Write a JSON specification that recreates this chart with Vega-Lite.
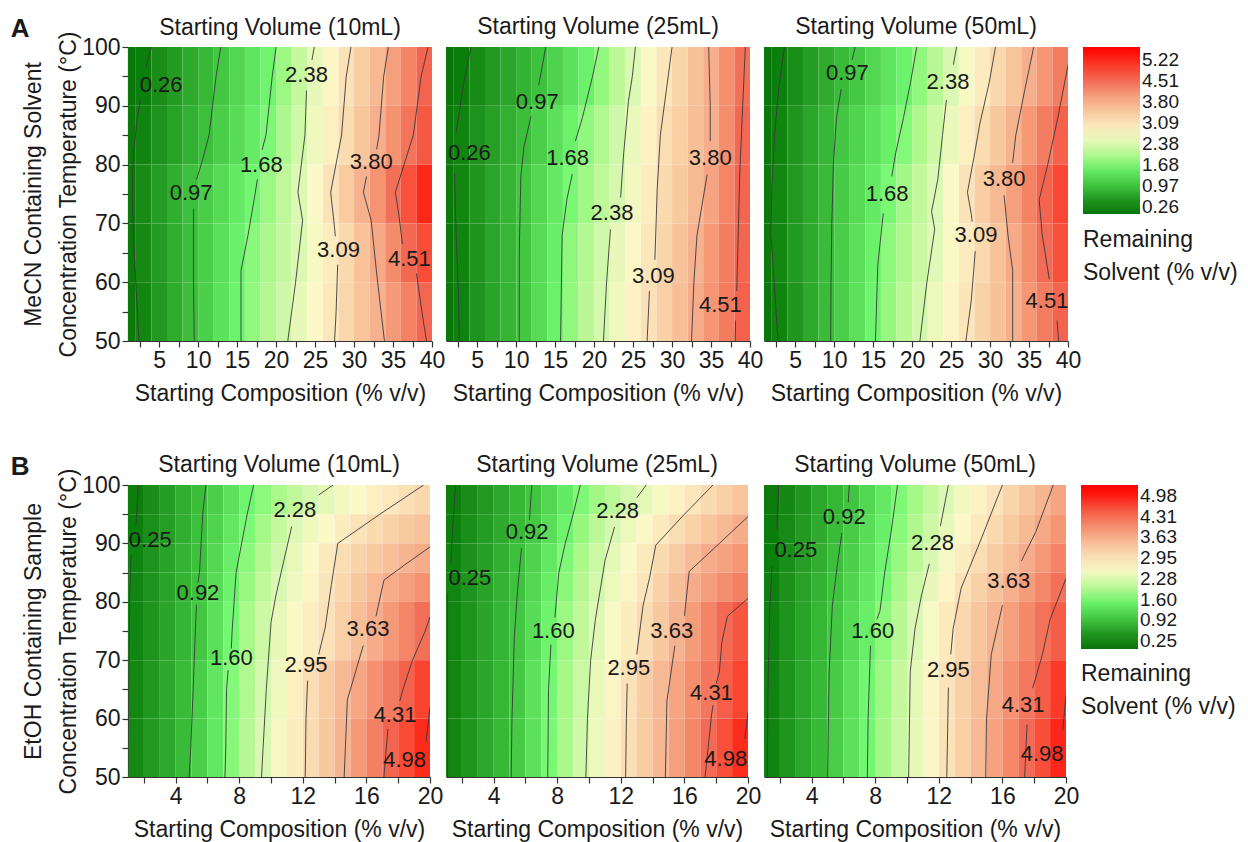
{
"$schema":"https://vega.github.io/schema/vega-lite/v6.json",
"padding":{"left":10,"top":16,"right":5,"bottom":5},
"background":"white",
"spacing":48,
"resolve":{"scale":{"color":"independent"},"legend":{"color":"independent"}},
"config":{
"font":"Liberation Sans",
"view":{"stroke":null},
"axis":{"labelFontSize":23,"titleFontSize":23,"titleFontWeight":"normal","labelColor":"#1a1a1a","titleColor":"#1a1a1a","domainColor":"#333333","tickColor":"#333333","grid":false,"labelFlush":false,"labelOverlap":false,"domainWidth":1.2,"tickWidth":1.2},
"title":{"fontSize":23,"fontWeight":"normal","color":"#1a1a1a","offset":8,"frame":"group"},
"legend":{"titleOrient":"bottom","titleAnchor":"start","titleFontSize":23,"titleFontWeight":"normal","titleColor":"#1a1a1a","titleLineHeight":33,"titlePadding":12,"labelFontSize":19,"labelColor":"#1a1a1a","gradientThickness":57,"labelOverlap":false,"labelOffset":9,"gradientStrokeWidth":0}
},
"datasets":{
"a1":[
{"x":0,"x2":2,"y":90,"y2":100,"v":0.11},{"x":2,"x2":4,"y":90,"y2":100,"v":0.26},{"x":4,"x2":6,"y":90,"y2":100,"v":0.41},{"x":6,"x2":8,"y":90,"y2":100,"v":0.57},{"x":8,"x2":10,"y":90,"y2":100,"v":0.72},{"x":10,"x2":12,"y":90,"y2":100,"v":0.87},{"x":12,"x2":14,"y":90,"y2":100,"v":1.04},{"x":14,"x2":16,"y":90,"y2":100,"v":1.24},{"x":16,"x2":18,"y":90,"y2":100,"v":1.43},{"x":18,"x2":20,"y":90,"y2":100,"v":1.63},{"x":20,"x2":22,"y":90,"y2":100,"v":1.90},{"x":22,"x2":24,"y":90,"y2":100,"v":2.20},{"x":24,"x2":26,"y":90,"y2":100,"v":2.50},{"x":26,"x2":28,"y":90,"y2":100,"v":2.79},{"x":28,"x2":30,"y":90,"y2":100,"v":3.09},{"x":30,"x2":32,"y":90,"y2":100,"v":3.39},{"x":32,"x2":34,"y":90,"y2":100,"v":3.68},{"x":34,"x2":36,"y":90,"y2":100,"v":3.98},{"x":36,"x2":38,"y":90,"y2":100,"v":4.27},{"x":38,"x2":40,"y":90,"y2":100,"v":4.57},
{"x":0,"x2":2,"y":80,"y2":90,"v":0.16},{"x":2,"x2":4,"y":80,"y2":90,"v":0.31},{"x":4,"x2":6,"y":80,"y2":90,"v":0.47},{"x":6,"x2":8,"y":80,"y2":90,"v":0.63},{"x":8,"x2":10,"y":80,"y2":90,"v":0.78},{"x":10,"x2":12,"y":80,"y2":90,"v":0.94},{"x":12,"x2":14,"y":80,"y2":90,"v":1.13},{"x":14,"x2":16,"y":80,"y2":90,"v":1.32},{"x":16,"x2":18,"y":80,"y2":90,"v":1.51},{"x":18,"x2":20,"y":80,"y2":90,"v":1.72},{"x":20,"x2":22,"y":80,"y2":90,"v":2.00},{"x":22,"x2":24,"y":80,"y2":90,"v":2.28},{"x":24,"x2":26,"y":80,"y2":90,"v":2.58},{"x":26,"x2":28,"y":80,"y2":90,"v":2.88},{"x":28,"x2":30,"y":80,"y2":90,"v":3.18},{"x":30,"x2":32,"y":80,"y2":90,"v":3.50},{"x":32,"x2":34,"y":80,"y2":90,"v":3.82},{"x":34,"x2":36,"y":80,"y2":90,"v":4.12},{"x":36,"x2":38,"y":80,"y2":90,"v":4.42},{"x":38,"x2":40,"y":80,"y2":90,"v":4.72},
{"x":0,"x2":2,"y":70,"y2":80,"v":0.21},{"x":2,"x2":4,"y":70,"y2":80,"v":0.39},{"x":4,"x2":6,"y":70,"y2":80,"v":0.58},{"x":6,"x2":8,"y":70,"y2":80,"v":0.76},{"x":8,"x2":10,"y":70,"y2":80,"v":0.94},{"x":10,"x2":12,"y":70,"y2":80,"v":1.12},{"x":12,"x2":14,"y":70,"y2":80,"v":1.30},{"x":14,"x2":16,"y":70,"y2":80,"v":1.48},{"x":16,"x2":18,"y":70,"y2":80,"v":1.65},{"x":18,"x2":20,"y":70,"y2":80,"v":1.89},{"x":20,"x2":22,"y":70,"y2":80,"v":2.14},{"x":22,"x2":24,"y":70,"y2":80,"v":2.40},{"x":24,"x2":26,"y":70,"y2":80,"v":2.74},{"x":26,"x2":28,"y":70,"y2":80,"v":3.09},{"x":28,"x2":30,"y":70,"y2":80,"v":3.43},{"x":30,"x2":32,"y":70,"y2":80,"v":3.77},{"x":32,"x2":34,"y":70,"y2":80,"v":4.11},{"x":34,"x2":36,"y":70,"y2":80,"v":4.46},{"x":36,"x2":38,"y":70,"y2":80,"v":4.80},{"x":38,"x2":40,"y":70,"y2":80,"v":5.15},
{"x":0,"x2":2,"y":60,"y2":70,"v":0.19},{"x":2,"x2":4,"y":60,"y2":70,"v":0.37},{"x":4,"x2":6,"y":60,"y2":70,"v":0.56},{"x":6,"x2":8,"y":60,"y2":70,"v":0.75},{"x":8,"x2":10,"y":60,"y2":70,"v":0.93},{"x":10,"x2":12,"y":60,"y2":70,"v":1.14},{"x":12,"x2":14,"y":60,"y2":70,"v":1.36},{"x":14,"x2":16,"y":60,"y2":70,"v":1.58},{"x":16,"x2":18,"y":60,"y2":70,"v":1.79},{"x":18,"x2":20,"y":60,"y2":70,"v":1.99},{"x":20,"x2":22,"y":60,"y2":70,"v":2.19},{"x":22,"x2":24,"y":60,"y2":70,"v":2.39},{"x":24,"x2":26,"y":60,"y2":70,"v":2.66},{"x":26,"x2":28,"y":60,"y2":70,"v":2.93},{"x":28,"x2":30,"y":60,"y2":70,"v":3.22},{"x":30,"x2":32,"y":60,"y2":70,"v":3.55},{"x":32,"x2":34,"y":60,"y2":70,"v":3.88},{"x":34,"x2":36,"y":60,"y2":70,"v":4.20},{"x":36,"x2":38,"y":60,"y2":70,"v":4.53},{"x":38,"x2":40,"y":60,"y2":70,"v":4.85},
{"x":0,"x2":2,"y":50,"y2":60,"v":0.14},{"x":2,"x2":4,"y":50,"y2":60,"v":0.34},{"x":4,"x2":6,"y":50,"y2":60,"v":0.53},{"x":6,"x2":8,"y":50,"y2":60,"v":0.73},{"x":8,"x2":10,"y":50,"y2":60,"v":0.93},{"x":10,"x2":12,"y":50,"y2":60,"v":1.15},{"x":12,"x2":14,"y":50,"y2":60,"v":1.39},{"x":14,"x2":16,"y":50,"y2":60,"v":1.62},{"x":16,"x2":18,"y":50,"y2":60,"v":1.84},{"x":18,"x2":20,"y":50,"y2":60,"v":2.06},{"x":20,"x2":22,"y":50,"y2":60,"v":2.27},{"x":22,"x2":24,"y":50,"y2":60,"v":2.51},{"x":24,"x2":26,"y":50,"y2":60,"v":2.75},{"x":26,"x2":28,"y":50,"y2":60,"v":3.00},{"x":28,"x2":30,"y":50,"y2":60,"v":3.26},{"x":30,"x2":32,"y":50,"y2":60,"v":3.52},{"x":32,"x2":34,"y":50,"y2":60,"v":3.78},{"x":34,"x2":36,"y":50,"y2":60,"v":4.04},{"x":36,"x2":38,"y":50,"y2":60,"v":4.30},{"x":38,"x2":40,"y":50,"y2":60,"v":4.55}
],
"a2":[
{"x":0,"x2":2,"y":90,"y2":100,"v":0.08},{"x":2,"x2":4,"y":90,"y2":100,"v":0.23},{"x":4,"x2":6,"y":90,"y2":100,"v":0.38},{"x":6,"x2":8,"y":90,"y2":100,"v":0.53},{"x":8,"x2":10,"y":90,"y2":100,"v":0.67},{"x":10,"x2":12,"y":90,"y2":100,"v":0.82},{"x":12,"x2":14,"y":90,"y2":100,"v":0.97},{"x":14,"x2":16,"y":90,"y2":100,"v":1.18},{"x":16,"x2":18,"y":90,"y2":100,"v":1.39},{"x":18,"x2":20,"y":90,"y2":100,"v":1.59},{"x":20,"x2":22,"y":90,"y2":100,"v":1.84},{"x":22,"x2":24,"y":90,"y2":100,"v":2.12},{"x":24,"x2":26,"y":90,"y2":100,"v":2.40},{"x":26,"x2":28,"y":90,"y2":100,"v":2.70},{"x":28,"x2":30,"y":90,"y2":100,"v":3.01},{"x":30,"x2":32,"y":90,"y2":100,"v":3.29},{"x":32,"x2":34,"y":90,"y2":100,"v":3.56},{"x":34,"x2":36,"y":90,"y2":100,"v":3.83},{"x":36,"x2":38,"y":90,"y2":100,"v":4.15},{"x":38,"x2":40,"y":90,"y2":100,"v":4.46},
{"x":0,"x2":2,"y":80,"y2":90,"v":0.16},{"x":2,"x2":4,"y":80,"y2":90,"v":0.31},{"x":4,"x2":6,"y":80,"y2":90,"v":0.47},{"x":6,"x2":8,"y":80,"y2":90,"v":0.62},{"x":8,"x2":10,"y":80,"y2":90,"v":0.78},{"x":10,"x2":12,"y":80,"y2":90,"v":0.93},{"x":12,"x2":14,"y":80,"y2":90,"v":1.14},{"x":14,"x2":16,"y":80,"y2":90,"v":1.37},{"x":16,"x2":18,"y":80,"y2":90,"v":1.59},{"x":18,"x2":20,"y":80,"y2":90,"v":1.82},{"x":20,"x2":22,"y":80,"y2":90,"v":2.04},{"x":22,"x2":24,"y":80,"y2":90,"v":2.27},{"x":24,"x2":26,"y":80,"y2":90,"v":2.54},{"x":26,"x2":28,"y":80,"y2":90,"v":2.85},{"x":28,"x2":30,"y":80,"y2":90,"v":3.15},{"x":30,"x2":32,"y":80,"y2":90,"v":3.37},{"x":32,"x2":34,"y":80,"y2":90,"v":3.59},{"x":34,"x2":36,"y":80,"y2":90,"v":3.82},{"x":36,"x2":38,"y":80,"y2":90,"v":4.17},{"x":38,"x2":40,"y":80,"y2":90,"v":4.53},
{"x":0,"x2":2,"y":70,"y2":80,"v":0.17},{"x":2,"x2":4,"y":70,"y2":80,"v":0.34},{"x":4,"x2":6,"y":70,"y2":80,"v":0.51},{"x":6,"x2":8,"y":70,"y2":80,"v":0.67},{"x":8,"x2":10,"y":70,"y2":80,"v":0.84},{"x":10,"x2":12,"y":70,"y2":80,"v":1.03},{"x":12,"x2":14,"y":70,"y2":80,"v":1.26},{"x":14,"x2":16,"y":70,"y2":80,"v":1.49},{"x":16,"x2":18,"y":70,"y2":80,"v":1.71},{"x":18,"x2":20,"y":70,"y2":80,"v":1.92},{"x":20,"x2":22,"y":70,"y2":80,"v":2.13},{"x":22,"x2":24,"y":70,"y2":80,"v":2.34},{"x":24,"x2":26,"y":70,"y2":80,"v":2.62},{"x":26,"x2":28,"y":70,"y2":80,"v":2.92},{"x":28,"x2":30,"y":70,"y2":80,"v":3.20},{"x":30,"x2":32,"y":70,"y2":80,"v":3.44},{"x":32,"x2":34,"y":70,"y2":80,"v":3.68},{"x":34,"x2":36,"y":70,"y2":80,"v":3.95},{"x":36,"x2":38,"y":70,"y2":80,"v":4.26},{"x":38,"x2":40,"y":70,"y2":80,"v":4.57},
{"x":0,"x2":2,"y":60,"y2":70,"v":0.14},{"x":2,"x2":4,"y":60,"y2":70,"v":0.32},{"x":4,"x2":6,"y":60,"y2":70,"v":0.49},{"x":6,"x2":8,"y":60,"y2":70,"v":0.67},{"x":8,"x2":10,"y":60,"y2":70,"v":0.85},{"x":10,"x2":12,"y":60,"y2":70,"v":1.05},{"x":12,"x2":14,"y":60,"y2":70,"v":1.31},{"x":14,"x2":16,"y":60,"y2":70,"v":1.57},{"x":16,"x2":18,"y":60,"y2":70,"v":1.82},{"x":18,"x2":20,"y":60,"y2":70,"v":2.05},{"x":20,"x2":22,"y":60,"y2":70,"v":2.28},{"x":22,"x2":24,"y":60,"y2":70,"v":2.52},{"x":24,"x2":26,"y":60,"y2":70,"v":2.77},{"x":26,"x2":28,"y":60,"y2":70,"v":3.03},{"x":28,"x2":30,"y":60,"y2":70,"v":3.28},{"x":30,"x2":32,"y":60,"y2":70,"v":3.54},{"x":32,"x2":34,"y":60,"y2":70,"v":3.79},{"x":34,"x2":36,"y":60,"y2":70,"v":4.06},{"x":36,"x2":38,"y":60,"y2":70,"v":4.32},{"x":38,"x2":40,"y":60,"y2":70,"v":4.58},
{"x":0,"x2":2,"y":50,"y2":60,"v":0.11},{"x":2,"x2":4,"y":50,"y2":60,"v":0.29},{"x":4,"x2":6,"y":50,"y2":60,"v":0.48},{"x":6,"x2":8,"y":50,"y2":60,"v":0.66},{"x":8,"x2":10,"y":50,"y2":60,"v":0.84},{"x":10,"x2":12,"y":50,"y2":60,"v":1.05},{"x":12,"x2":14,"y":50,"y2":60,"v":1.32},{"x":14,"x2":16,"y":50,"y2":60,"v":1.59},{"x":16,"x2":18,"y":50,"y2":60,"v":1.84},{"x":18,"x2":20,"y":50,"y2":60,"v":2.09},{"x":20,"x2":22,"y":50,"y2":60,"v":2.33},{"x":22,"x2":24,"y":50,"y2":60,"v":2.58},{"x":24,"x2":26,"y":50,"y2":60,"v":2.84},{"x":26,"x2":28,"y":50,"y2":60,"v":3.10},{"x":28,"x2":30,"y":50,"y2":60,"v":3.34},{"x":30,"x2":32,"y":50,"y2":60,"v":3.59},{"x":32,"x2":34,"y":50,"y2":60,"v":3.84},{"x":34,"x2":36,"y":50,"y2":60,"v":4.10},{"x":36,"x2":38,"y":50,"y2":60,"v":4.35},{"x":38,"x2":40,"y":50,"y2":60,"v":4.61}
],
"a3":[
{"x":0,"x2":2,"y":90,"y2":100,"v":0.10},{"x":2,"x2":4,"y":90,"y2":100,"v":0.26},{"x":4,"x2":6,"y":90,"y2":100,"v":0.42},{"x":6,"x2":8,"y":90,"y2":100,"v":0.58},{"x":8,"x2":10,"y":90,"y2":100,"v":0.73},{"x":10,"x2":12,"y":90,"y2":100,"v":0.89},{"x":12,"x2":14,"y":90,"y2":100,"v":1.06},{"x":14,"x2":16,"y":90,"y2":100,"v":1.24},{"x":16,"x2":18,"y":90,"y2":100,"v":1.42},{"x":18,"x2":20,"y":90,"y2":100,"v":1.60},{"x":20,"x2":22,"y":90,"y2":100,"v":1.83},{"x":22,"x2":24,"y":90,"y2":100,"v":2.10},{"x":24,"x2":26,"y":90,"y2":100,"v":2.38},{"x":26,"x2":28,"y":90,"y2":100,"v":2.66},{"x":28,"x2":30,"y":90,"y2":100,"v":2.95},{"x":30,"x2":32,"y":90,"y2":100,"v":3.24},{"x":32,"x2":34,"y":90,"y2":100,"v":3.53},{"x":34,"x2":36,"y":90,"y2":100,"v":3.81},{"x":36,"x2":38,"y":90,"y2":100,"v":4.08},{"x":38,"x2":40,"y":90,"y2":100,"v":4.34},
{"x":0,"x2":2,"y":80,"y2":90,"v":0.14},{"x":2,"x2":4,"y":80,"y2":90,"v":0.32},{"x":4,"x2":6,"y":80,"y2":90,"v":0.50},{"x":6,"x2":8,"y":80,"y2":90,"v":0.68},{"x":8,"x2":10,"y":80,"y2":90,"v":0.86},{"x":10,"x2":12,"y":80,"y2":90,"v":1.04},{"x":12,"x2":14,"y":80,"y2":90,"v":1.21},{"x":14,"x2":16,"y":80,"y2":90,"v":1.39},{"x":16,"x2":18,"y":80,"y2":90,"v":1.56},{"x":18,"x2":20,"y":80,"y2":90,"v":1.76},{"x":20,"x2":22,"y":80,"y2":90,"v":2.01},{"x":22,"x2":24,"y":80,"y2":90,"v":2.26},{"x":24,"x2":26,"y":80,"y2":90,"v":2.55},{"x":26,"x2":28,"y":80,"y2":90,"v":2.87},{"x":28,"x2":30,"y":80,"y2":90,"v":3.18},{"x":30,"x2":32,"y":80,"y2":90,"v":3.47},{"x":32,"x2":34,"y":80,"y2":90,"v":3.76},{"x":34,"x2":36,"y":80,"y2":90,"v":4.05},{"x":36,"x2":38,"y":80,"y2":90,"v":4.34},{"x":38,"x2":40,"y":80,"y2":90,"v":4.63},
{"x":0,"x2":2,"y":70,"y2":80,"v":0.17},{"x":2,"x2":4,"y":70,"y2":80,"v":0.35},{"x":4,"x2":6,"y":70,"y2":80,"v":0.53},{"x":6,"x2":8,"y":70,"y2":80,"v":0.71},{"x":8,"x2":10,"y":70,"y2":80,"v":0.89},{"x":10,"x2":12,"y":70,"y2":80,"v":1.09},{"x":12,"x2":14,"y":70,"y2":80,"v":1.30},{"x":14,"x2":16,"y":70,"y2":80,"v":1.50},{"x":16,"x2":18,"y":70,"y2":80,"v":1.71},{"x":18,"x2":20,"y":70,"y2":80,"v":1.94},{"x":20,"x2":22,"y":70,"y2":80,"v":2.17},{"x":22,"x2":24,"y":70,"y2":80,"v":2.40},{"x":24,"x2":26,"y":70,"y2":80,"v":2.73},{"x":26,"x2":28,"y":70,"y2":80,"v":3.07},{"x":28,"x2":30,"y":70,"y2":80,"v":3.38},{"x":30,"x2":32,"y":70,"y2":80,"v":3.68},{"x":32,"x2":34,"y":70,"y2":80,"v":3.98},{"x":34,"x2":36,"y":70,"y2":80,"v":4.28},{"x":36,"x2":38,"y":70,"y2":80,"v":4.59},{"x":38,"x2":40,"y":70,"y2":80,"v":4.89},
{"x":0,"x2":2,"y":60,"y2":70,"v":0.17},{"x":2,"x2":4,"y":60,"y2":70,"v":0.35},{"x":4,"x2":6,"y":60,"y2":70,"v":0.54},{"x":6,"x2":8,"y":60,"y2":70,"v":0.72},{"x":8,"x2":10,"y":60,"y2":70,"v":0.91},{"x":10,"x2":12,"y":60,"y2":70,"v":1.13},{"x":12,"x2":14,"y":60,"y2":70,"v":1.36},{"x":14,"x2":16,"y":60,"y2":70,"v":1.59},{"x":16,"x2":18,"y":60,"y2":70,"v":1.81},{"x":18,"x2":20,"y":60,"y2":70,"v":2.02},{"x":20,"x2":22,"y":60,"y2":70,"v":2.23},{"x":22,"x2":24,"y":60,"y2":70,"v":2.45},{"x":24,"x2":26,"y":60,"y2":70,"v":2.70},{"x":26,"x2":28,"y":60,"y2":70,"v":2.95},{"x":28,"x2":30,"y":60,"y2":70,"v":3.23},{"x":30,"x2":32,"y":60,"y2":70,"v":3.55},{"x":32,"x2":34,"y":60,"y2":70,"v":3.86},{"x":34,"x2":36,"y":60,"y2":70,"v":4.18},{"x":36,"x2":38,"y":60,"y2":70,"v":4.50},{"x":38,"x2":40,"y":60,"y2":70,"v":4.81},
{"x":0,"x2":2,"y":50,"y2":60,"v":0.10},{"x":2,"x2":4,"y":50,"y2":60,"v":0.31},{"x":4,"x2":6,"y":50,"y2":60,"v":0.51},{"x":6,"x2":8,"y":50,"y2":60,"v":0.71},{"x":8,"x2":10,"y":50,"y2":60,"v":0.91},{"x":10,"x2":12,"y":50,"y2":60,"v":1.14},{"x":12,"x2":14,"y":50,"y2":60,"v":1.38},{"x":14,"x2":16,"y":50,"y2":60,"v":1.63},{"x":16,"x2":18,"y":50,"y2":60,"v":1.86},{"x":18,"x2":20,"y":50,"y2":60,"v":2.09},{"x":20,"x2":22,"y":50,"y2":60,"v":2.32},{"x":22,"x2":24,"y":50,"y2":60,"v":2.56},{"x":24,"x2":26,"y":50,"y2":60,"v":2.81},{"x":26,"x2":28,"y":50,"y2":60,"v":3.05},{"x":28,"x2":30,"y":50,"y2":60,"v":3.31},{"x":30,"x2":32,"y":50,"y2":60,"v":3.56},{"x":32,"x2":34,"y":50,"y2":60,"v":3.81},{"x":34,"x2":36,"y":50,"y2":60,"v":4.08},{"x":36,"x2":38,"y":50,"y2":60,"v":4.34},{"x":38,"x2":40,"y":50,"y2":60,"v":4.60}
],
"b1":[
{"x":1,"x2":2,"y":95,"y2":100,"v":0.23},{"x":2,"x2":3,"y":95,"y2":100,"v":0.39},{"x":3,"x2":4,"y":95,"y2":100,"v":0.55},{"x":4,"x2":5,"y":95,"y2":100,"v":0.71},{"x":5,"x2":6,"y":95,"y2":100,"v":0.87},{"x":6,"x2":7,"y":95,"y2":100,"v":1.08},{"x":7,"x2":8,"y":95,"y2":100,"v":1.32},{"x":8,"x2":9,"y":95,"y2":100,"v":1.55},{"x":9,"x2":10,"y":95,"y2":100,"v":1.73},{"x":10,"x2":11,"y":95,"y2":100,"v":1.90},{"x":11,"x2":12,"y":95,"y2":100,"v":2.07},{"x":12,"x2":13,"y":95,"y2":100,"v":2.24},{"x":13,"x2":14,"y":95,"y2":100,"v":2.37},{"x":14,"x2":15,"y":95,"y2":100,"v":2.50},{"x":15,"x2":16,"y":95,"y2":100,"v":2.62},{"x":16,"x2":17,"y":95,"y2":100,"v":2.74},{"x":17,"x2":18,"y":95,"y2":100,"v":2.86},{"x":18,"x2":19,"y":95,"y2":100,"v":2.98},{"x":19,"x2":20,"y":95,"y2":100,"v":3.10},
{"x":1,"x2":2,"y":90,"y2":95,"v":0.25},{"x":2,"x2":3,"y":90,"y2":95,"v":0.41},{"x":3,"x2":4,"y":90,"y2":95,"v":0.57},{"x":4,"x2":5,"y":90,"y2":95,"v":0.73},{"x":5,"x2":6,"y":90,"y2":95,"v":0.89},{"x":6,"x2":7,"y":90,"y2":95,"v":1.14},{"x":7,"x2":8,"y":90,"y2":95,"v":1.39},{"x":8,"x2":9,"y":90,"y2":95,"v":1.64},{"x":9,"x2":10,"y":90,"y2":95,"v":1.87},{"x":10,"x2":11,"y":90,"y2":95,"v":2.10},{"x":11,"x2":12,"y":90,"y2":95,"v":2.32},{"x":12,"x2":13,"y":90,"y2":95,"v":2.47},{"x":13,"x2":14,"y":90,"y2":95,"v":2.63},{"x":14,"x2":15,"y":90,"y2":95,"v":2.79},{"x":15,"x2":16,"y":90,"y2":95,"v":2.95},{"x":16,"x2":17,"y":90,"y2":95,"v":3.06},{"x":17,"x2":18,"y":90,"y2":95,"v":3.17},{"x":18,"x2":19,"y":90,"y2":95,"v":3.28},{"x":19,"x2":20,"y":90,"y2":95,"v":3.39},
{"x":1,"x2":2,"y":85,"y2":90,"v":0.30},{"x":2,"x2":3,"y":85,"y2":90,"v":0.45},{"x":3,"x2":4,"y":85,"y2":90,"v":0.61},{"x":4,"x2":5,"y":85,"y2":90,"v":0.76},{"x":5,"x2":6,"y":85,"y2":90,"v":0.91},{"x":6,"x2":7,"y":85,"y2":90,"v":1.19},{"x":7,"x2":8,"y":85,"y2":90,"v":1.47},{"x":8,"x2":9,"y":85,"y2":90,"v":1.72},{"x":9,"x2":10,"y":85,"y2":90,"v":1.96},{"x":10,"x2":11,"y":85,"y2":90,"v":2.20},{"x":11,"x2":12,"y":85,"y2":90,"v":2.42},{"x":12,"x2":13,"y":85,"y2":90,"v":2.63},{"x":13,"x2":14,"y":85,"y2":90,"v":2.83},{"x":14,"x2":15,"y":85,"y2":90,"v":3.01},{"x":15,"x2":16,"y":85,"y2":90,"v":3.15},{"x":16,"x2":17,"y":85,"y2":90,"v":3.29},{"x":17,"x2":18,"y":85,"y2":90,"v":3.42},{"x":18,"x2":19,"y":85,"y2":90,"v":3.56},{"x":19,"x2":20,"y":85,"y2":90,"v":3.68},
{"x":1,"x2":2,"y":80,"y2":85,"v":0.31},{"x":2,"x2":3,"y":80,"y2":85,"v":0.46},{"x":3,"x2":4,"y":80,"y2":85,"v":0.62},{"x":4,"x2":5,"y":80,"y2":85,"v":0.77},{"x":5,"x2":6,"y":80,"y2":85,"v":0.93},{"x":6,"x2":7,"y":80,"y2":85,"v":1.23},{"x":7,"x2":8,"y":80,"y2":85,"v":1.53},{"x":8,"x2":9,"y":80,"y2":85,"v":1.79},{"x":9,"x2":10,"y":80,"y2":85,"v":2.05},{"x":10,"x2":11,"y":80,"y2":85,"v":2.29},{"x":11,"x2":12,"y":80,"y2":85,"v":2.49},{"x":12,"x2":13,"y":80,"y2":85,"v":2.69},{"x":13,"x2":14,"y":80,"y2":85,"v":2.90},{"x":14,"x2":15,"y":80,"y2":85,"v":3.10},{"x":15,"x2":16,"y":80,"y2":85,"v":3.31},{"x":16,"x2":17,"y":80,"y2":85,"v":3.52},{"x":17,"x2":18,"y":80,"y2":85,"v":3.69},{"x":18,"x2":19,"y":80,"y2":85,"v":3.81},{"x":19,"x2":20,"y":80,"y2":85,"v":3.93},
{"x":1,"x2":2,"y":70,"y2":80,"v":0.31},{"x":2,"x2":3,"y":70,"y2":80,"v":0.47},{"x":3,"x2":4,"y":70,"y2":80,"v":0.63},{"x":4,"x2":5,"y":70,"y2":80,"v":0.79},{"x":5,"x2":6,"y":70,"y2":80,"v":0.98},{"x":6,"x2":7,"y":70,"y2":80,"v":1.30},{"x":7,"x2":8,"y":70,"y2":80,"v":1.61},{"x":8,"x2":9,"y":70,"y2":80,"v":1.89},{"x":9,"x2":10,"y":70,"y2":80,"v":2.16},{"x":10,"x2":11,"y":70,"y2":80,"v":2.39},{"x":11,"x2":12,"y":70,"y2":80,"v":2.58},{"x":12,"x2":13,"y":70,"y2":80,"v":2.77},{"x":13,"x2":14,"y":70,"y2":80,"v":2.96},{"x":14,"x2":15,"y":70,"y2":80,"v":3.20},{"x":15,"x2":16,"y":70,"y2":80,"v":3.44},{"x":16,"x2":17,"y":70,"y2":80,"v":3.67},{"x":17,"x2":18,"y":70,"y2":80,"v":3.87},{"x":18,"x2":19,"y":70,"y2":80,"v":4.07},{"x":19,"x2":20,"y":70,"y2":80,"v":4.27},
{"x":1,"x2":2,"y":60,"y2":70,"v":0.33},{"x":2,"x2":3,"y":60,"y2":70,"v":0.50},{"x":3,"x2":4,"y":60,"y2":70,"v":0.67},{"x":4,"x2":5,"y":60,"y2":70,"v":0.84},{"x":5,"x2":6,"y":60,"y2":70,"v":1.07},{"x":6,"x2":7,"y":60,"y2":70,"v":1.38},{"x":7,"x2":8,"y":60,"y2":70,"v":1.68},{"x":8,"x2":9,"y":60,"y2":70,"v":1.95},{"x":9,"x2":10,"y":60,"y2":70,"v":2.23},{"x":10,"x2":11,"y":60,"y2":70,"v":2.49},{"x":11,"x2":12,"y":60,"y2":70,"v":2.76},{"x":12,"x2":13,"y":60,"y2":70,"v":3.02},{"x":13,"x2":14,"y":60,"y2":70,"v":3.27},{"x":14,"x2":15,"y":60,"y2":70,"v":3.51},{"x":15,"x2":16,"y":60,"y2":70,"v":3.74},{"x":16,"x2":17,"y":60,"y2":70,"v":3.95},{"x":17,"x2":18,"y":60,"y2":70,"v":4.16},{"x":18,"x2":19,"y":60,"y2":70,"v":4.41},{"x":19,"x2":20,"y":60,"y2":70,"v":4.72},
{"x":1,"x2":2,"y":50,"y2":60,"v":0.34},{"x":2,"x2":3,"y":50,"y2":60,"v":0.51},{"x":3,"x2":4,"y":50,"y2":60,"v":0.68},{"x":4,"x2":5,"y":50,"y2":60,"v":0.85},{"x":5,"x2":6,"y":50,"y2":60,"v":1.10},{"x":6,"x2":7,"y":50,"y2":60,"v":1.40},{"x":7,"x2":8,"y":50,"y2":60,"v":1.70},{"x":8,"x2":9,"y":50,"y2":60,"v":1.99},{"x":9,"x2":10,"y":50,"y2":60,"v":2.28},{"x":10,"x2":11,"y":50,"y2":60,"v":2.53},{"x":11,"x2":12,"y":50,"y2":60,"v":2.78},{"x":12,"x2":13,"y":50,"y2":60,"v":3.03},{"x":13,"x2":14,"y":50,"y2":60,"v":3.31},{"x":14,"x2":15,"y":50,"y2":60,"v":3.59},{"x":15,"x2":16,"y":50,"y2":60,"v":3.86},{"x":16,"x2":17,"y":50,"y2":60,"v":4.12},{"x":17,"x2":18,"y":50,"y2":60,"v":4.39},{"x":18,"x2":19,"y":50,"y2":60,"v":4.64},{"x":19,"x2":20,"y":50,"y2":60,"v":4.90}
],
"b2":[
{"x":1,"x2":2,"y":95,"y2":100,"v":0.24},{"x":2,"x2":3,"y":95,"y2":100,"v":0.38},{"x":3,"x2":4,"y":95,"y2":100,"v":0.52},{"x":4,"x2":5,"y":95,"y2":100,"v":0.66},{"x":5,"x2":6,"y":95,"y2":100,"v":0.80},{"x":6,"x2":7,"y":95,"y2":100,"v":0.96},{"x":7,"x2":8,"y":95,"y2":100,"v":1.19},{"x":8,"x2":9,"y":95,"y2":100,"v":1.43},{"x":9,"x2":10,"y":95,"y2":100,"v":1.65},{"x":10,"x2":11,"y":95,"y2":100,"v":1.84},{"x":11,"x2":12,"y":95,"y2":100,"v":2.02},{"x":12,"x2":13,"y":95,"y2":100,"v":2.21},{"x":13,"x2":14,"y":95,"y2":100,"v":2.38},{"x":14,"x2":15,"y":95,"y2":100,"v":2.55},{"x":15,"x2":16,"y":95,"y2":100,"v":2.72},{"x":16,"x2":17,"y":95,"y2":100,"v":2.88},{"x":17,"x2":18,"y":95,"y2":100,"v":3.05},{"x":18,"x2":19,"y":95,"y2":100,"v":3.21},{"x":19,"x2":20,"y":95,"y2":100,"v":3.37},
{"x":1,"x2":2,"y":90,"y2":95,"v":0.26},{"x":2,"x2":3,"y":90,"y2":95,"v":0.40},{"x":3,"x2":4,"y":90,"y2":95,"v":0.55},{"x":4,"x2":5,"y":90,"y2":95,"v":0.69},{"x":5,"x2":6,"y":90,"y2":95,"v":0.83},{"x":6,"x2":7,"y":90,"y2":95,"v":1.02},{"x":7,"x2":8,"y":90,"y2":95,"v":1.28},{"x":8,"x2":9,"y":90,"y2":95,"v":1.54},{"x":9,"x2":10,"y":90,"y2":95,"v":1.78},{"x":10,"x2":11,"y":90,"y2":95,"v":2.02},{"x":11,"x2":12,"y":90,"y2":95,"v":2.26},{"x":12,"x2":13,"y":90,"y2":95,"v":2.45},{"x":13,"x2":14,"y":90,"y2":95,"v":2.64},{"x":14,"x2":15,"y":90,"y2":95,"v":2.83},{"x":15,"x2":16,"y":90,"y2":95,"v":3.01},{"x":16,"x2":17,"y":90,"y2":95,"v":3.18},{"x":17,"x2":18,"y":90,"y2":95,"v":3.34},{"x":18,"x2":19,"y":90,"y2":95,"v":3.51},{"x":19,"x2":20,"y":90,"y2":95,"v":3.68},
{"x":1,"x2":2,"y":85,"y2":90,"v":0.28},{"x":2,"x2":3,"y":85,"y2":90,"v":0.43},{"x":3,"x2":4,"y":85,"y2":90,"v":0.58},{"x":4,"x2":5,"y":85,"y2":90,"v":0.74},{"x":5,"x2":6,"y":85,"y2":90,"v":0.89},{"x":6,"x2":7,"y":85,"y2":90,"v":1.13},{"x":7,"x2":8,"y":85,"y2":90,"v":1.39},{"x":8,"x2":9,"y":85,"y2":90,"v":1.65},{"x":9,"x2":10,"y":85,"y2":90,"v":1.90},{"x":10,"x2":11,"y":85,"y2":90,"v":2.14},{"x":11,"x2":12,"y":85,"y2":90,"v":2.38},{"x":12,"x2":13,"y":85,"y2":90,"v":2.60},{"x":13,"x2":14,"y":85,"y2":90,"v":2.83},{"x":14,"x2":15,"y":85,"y2":90,"v":3.05},{"x":15,"x2":16,"y":85,"y2":90,"v":3.26},{"x":16,"x2":17,"y":85,"y2":90,"v":3.48},{"x":17,"x2":18,"y":85,"y2":90,"v":3.67},{"x":18,"x2":19,"y":85,"y2":90,"v":3.78},{"x":19,"x2":20,"y":85,"y2":90,"v":3.90},
{"x":1,"x2":2,"y":80,"y2":85,"v":0.31},{"x":2,"x2":3,"y":80,"y2":85,"v":0.46},{"x":3,"x2":4,"y":80,"y2":85,"v":0.61},{"x":4,"x2":5,"y":80,"y2":85,"v":0.76},{"x":5,"x2":6,"y":80,"y2":85,"v":0.92},{"x":6,"x2":7,"y":80,"y2":85,"v":1.19},{"x":7,"x2":8,"y":80,"y2":85,"v":1.46},{"x":8,"x2":9,"y":80,"y2":85,"v":1.72},{"x":9,"x2":10,"y":80,"y2":85,"v":1.97},{"x":10,"x2":11,"y":80,"y2":85,"v":2.22},{"x":11,"x2":12,"y":80,"y2":85,"v":2.46},{"x":12,"x2":13,"y":80,"y2":85,"v":2.68},{"x":13,"x2":14,"y":80,"y2":85,"v":2.91},{"x":14,"x2":15,"y":80,"y2":85,"v":3.17},{"x":15,"x2":16,"y":80,"y2":85,"v":3.44},{"x":16,"x2":17,"y":80,"y2":85,"v":3.67},{"x":17,"x2":18,"y":80,"y2":85,"v":3.82},{"x":18,"x2":19,"y":80,"y2":85,"v":3.97},{"x":19,"x2":20,"y":80,"y2":85,"v":4.12},
{"x":1,"x2":2,"y":70,"y2":80,"v":0.31},{"x":2,"x2":3,"y":70,"y2":80,"v":0.47},{"x":3,"x2":4,"y":70,"y2":80,"v":0.63},{"x":4,"x2":5,"y":70,"y2":80,"v":0.79},{"x":5,"x2":6,"y":70,"y2":80,"v":0.98},{"x":6,"x2":7,"y":70,"y2":80,"v":1.26},{"x":7,"x2":8,"y":70,"y2":80,"v":1.54},{"x":8,"x2":9,"y":70,"y2":80,"v":1.81},{"x":9,"x2":10,"y":70,"y2":80,"v":2.07},{"x":10,"x2":11,"y":70,"y2":80,"v":2.33},{"x":11,"x2":12,"y":70,"y2":80,"v":2.56},{"x":12,"x2":13,"y":70,"y2":80,"v":2.79},{"x":13,"x2":14,"y":70,"y2":80,"v":3.03},{"x":14,"x2":15,"y":70,"y2":80,"v":3.31},{"x":15,"x2":16,"y":70,"y2":80,"v":3.59},{"x":16,"x2":17,"y":70,"y2":80,"v":3.84},{"x":17,"x2":18,"y":70,"y2":80,"v":4.08},{"x":18,"x2":19,"y":70,"y2":80,"v":4.32},{"x":19,"x2":20,"y":70,"y2":80,"v":4.54},
{"x":1,"x2":2,"y":60,"y2":70,"v":0.32},{"x":2,"x2":3,"y":60,"y2":70,"v":0.48},{"x":3,"x2":4,"y":60,"y2":70,"v":0.64},{"x":4,"x2":5,"y":60,"y2":70,"v":0.80},{"x":5,"x2":6,"y":60,"y2":70,"v":1.01},{"x":6,"x2":7,"y":60,"y2":70,"v":1.31},{"x":7,"x2":8,"y":60,"y2":70,"v":1.61},{"x":8,"x2":9,"y":60,"y2":70,"v":1.88},{"x":9,"x2":10,"y":60,"y2":70,"v":2.15},{"x":10,"x2":11,"y":60,"y2":70,"v":2.42},{"x":11,"x2":12,"y":60,"y2":70,"v":2.69},{"x":12,"x2":13,"y":60,"y2":70,"v":2.96},{"x":13,"x2":14,"y":60,"y2":70,"v":3.24},{"x":14,"x2":15,"y":60,"y2":70,"v":3.51},{"x":15,"x2":16,"y":60,"y2":70,"v":3.75},{"x":16,"x2":17,"y":60,"y2":70,"v":3.98},{"x":17,"x2":18,"y":60,"y2":70,"v":4.20},{"x":18,"x2":19,"y":60,"y2":70,"v":4.44},{"x":19,"x2":20,"y":60,"y2":70,"v":4.70},
{"x":1,"x2":2,"y":50,"y2":60,"v":0.32},{"x":2,"x2":3,"y":50,"y2":60,"v":0.48},{"x":3,"x2":4,"y":50,"y2":60,"v":0.65},{"x":4,"x2":5,"y":50,"y2":60,"v":0.82},{"x":5,"x2":6,"y":50,"y2":60,"v":1.03},{"x":6,"x2":7,"y":50,"y2":60,"v":1.33},{"x":7,"x2":8,"y":50,"y2":60,"v":1.63},{"x":8,"x2":9,"y":50,"y2":60,"v":1.91},{"x":9,"x2":10,"y":50,"y2":60,"v":2.18},{"x":10,"x2":11,"y":50,"y2":60,"v":2.46},{"x":11,"x2":12,"y":50,"y2":60,"v":2.73},{"x":12,"x2":13,"y":50,"y2":60,"v":3.00},{"x":13,"x2":14,"y":50,"y2":60,"v":3.27},{"x":14,"x2":15,"y":50,"y2":60,"v":3.54},{"x":15,"x2":16,"y":50,"y2":60,"v":3.80},{"x":16,"x2":17,"y":50,"y2":60,"v":4.05},{"x":17,"x2":18,"y":50,"y2":60,"v":4.31},{"x":18,"x2":19,"y":50,"y2":60,"v":4.60},{"x":19,"x2":20,"y":50,"y2":60,"v":4.89}
],
"b3":[
{"x":1,"x2":2,"y":95,"y2":100,"v":0.19},{"x":2,"x2":3,"y":95,"y2":100,"v":0.34},{"x":3,"x2":4,"y":95,"y2":100,"v":0.49},{"x":4,"x2":5,"y":95,"y2":100,"v":0.65},{"x":5,"x2":6,"y":95,"y2":100,"v":0.80},{"x":6,"x2":7,"y":95,"y2":100,"v":0.96},{"x":7,"x2":8,"y":95,"y2":100,"v":1.19},{"x":8,"x2":9,"y":95,"y2":100,"v":1.42},{"x":9,"x2":10,"y":95,"y2":100,"v":1.65},{"x":10,"x2":11,"y":95,"y2":100,"v":1.87},{"x":11,"x2":12,"y":95,"y2":100,"v":2.08},{"x":12,"x2":13,"y":95,"y2":100,"v":2.30},{"x":13,"x2":14,"y":95,"y2":100,"v":2.50},{"x":14,"x2":15,"y":95,"y2":100,"v":2.71},{"x":15,"x2":16,"y":95,"y2":100,"v":2.92},{"x":16,"x2":17,"y":95,"y2":100,"v":3.13},{"x":17,"x2":18,"y":95,"y2":100,"v":3.34},{"x":18,"x2":19,"y":95,"y2":100,"v":3.55},{"x":19,"x2":20,"y":95,"y2":100,"v":3.75},
{"x":1,"x2":2,"y":90,"y2":95,"v":0.20},{"x":2,"x2":3,"y":90,"y2":95,"v":0.36},{"x":3,"x2":4,"y":90,"y2":95,"v":0.52},{"x":4,"x2":5,"y":90,"y2":95,"v":0.69},{"x":5,"x2":6,"y":90,"y2":95,"v":0.85},{"x":6,"x2":7,"y":90,"y2":95,"v":1.04},{"x":7,"x2":8,"y":90,"y2":95,"v":1.26},{"x":8,"x2":9,"y":90,"y2":95,"v":1.48},{"x":9,"x2":10,"y":90,"y2":95,"v":1.71},{"x":10,"x2":11,"y":90,"y2":95,"v":1.93},{"x":11,"x2":12,"y":90,"y2":95,"v":2.16},{"x":12,"x2":13,"y":90,"y2":95,"v":2.39},{"x":13,"x2":14,"y":90,"y2":95,"v":2.62},{"x":14,"x2":15,"y":90,"y2":95,"v":2.85},{"x":15,"x2":16,"y":90,"y2":95,"v":3.07},{"x":16,"x2":17,"y":90,"y2":95,"v":3.28},{"x":17,"x2":18,"y":90,"y2":95,"v":3.49},{"x":18,"x2":19,"y":90,"y2":95,"v":3.70},{"x":19,"x2":20,"y":90,"y2":95,"v":3.90},
{"x":1,"x2":2,"y":85,"y2":90,"v":0.24},{"x":2,"x2":3,"y":85,"y2":90,"v":0.40},{"x":3,"x2":4,"y":85,"y2":90,"v":0.56},{"x":4,"x2":5,"y":85,"y2":90,"v":0.73},{"x":5,"x2":6,"y":85,"y2":90,"v":0.89},{"x":6,"x2":7,"y":85,"y2":90,"v":1.10},{"x":7,"x2":8,"y":85,"y2":90,"v":1.32},{"x":8,"x2":9,"y":85,"y2":90,"v":1.55},{"x":9,"x2":10,"y":85,"y2":90,"v":1.79},{"x":10,"x2":11,"y":85,"y2":90,"v":2.03},{"x":11,"x2":12,"y":85,"y2":90,"v":2.28},{"x":12,"x2":13,"y":85,"y2":90,"v":2.53},{"x":13,"x2":14,"y":85,"y2":90,"v":2.78},{"x":14,"x2":15,"y":85,"y2":90,"v":3.02},{"x":15,"x2":16,"y":85,"y2":90,"v":3.24},{"x":16,"x2":17,"y":85,"y2":90,"v":3.46},{"x":17,"x2":18,"y":85,"y2":90,"v":3.67},{"x":18,"x2":19,"y":85,"y2":90,"v":3.88},{"x":19,"x2":20,"y":85,"y2":90,"v":4.08},
{"x":1,"x2":2,"y":80,"y2":85,"v":0.26},{"x":2,"x2":3,"y":80,"y2":85,"v":0.43},{"x":3,"x2":4,"y":80,"y2":85,"v":0.60},{"x":4,"x2":5,"y":80,"y2":85,"v":0.76},{"x":5,"x2":6,"y":80,"y2":85,"v":0.93},{"x":6,"x2":7,"y":80,"y2":85,"v":1.16},{"x":7,"x2":8,"y":80,"y2":85,"v":1.38},{"x":8,"x2":9,"y":80,"y2":85,"v":1.61},{"x":9,"x2":10,"y":80,"y2":85,"v":1.87},{"x":10,"x2":11,"y":80,"y2":85,"v":2.14},{"x":11,"x2":12,"y":80,"y2":85,"v":2.41},{"x":12,"x2":13,"y":80,"y2":85,"v":2.69},{"x":13,"x2":14,"y":80,"y2":85,"v":2.97},{"x":14,"x2":15,"y":80,"y2":85,"v":3.19},{"x":15,"x2":16,"y":80,"y2":85,"v":3.41},{"x":16,"x2":17,"y":80,"y2":85,"v":3.63},{"x":17,"x2":18,"y":80,"y2":85,"v":3.84},{"x":18,"x2":19,"y":80,"y2":85,"v":4.04},{"x":19,"x2":20,"y":80,"y2":85,"v":4.25},
{"x":1,"x2":2,"y":70,"y2":80,"v":0.28},{"x":2,"x2":3,"y":70,"y2":80,"v":0.45},{"x":3,"x2":4,"y":70,"y2":80,"v":0.62},{"x":4,"x2":5,"y":70,"y2":80,"v":0.80},{"x":5,"x2":6,"y":70,"y2":80,"v":0.99},{"x":6,"x2":7,"y":70,"y2":80,"v":1.23},{"x":7,"x2":8,"y":70,"y2":80,"v":1.47},{"x":8,"x2":9,"y":70,"y2":80,"v":1.73},{"x":9,"x2":10,"y":70,"y2":80,"v":2.01},{"x":10,"x2":11,"y":70,"y2":80,"v":2.29},{"x":11,"x2":12,"y":70,"y2":80,"v":2.56},{"x":12,"x2":13,"y":70,"y2":80,"v":2.84},{"x":13,"x2":14,"y":70,"y2":80,"v":3.10},{"x":14,"x2":15,"y":70,"y2":80,"v":3.35},{"x":15,"x2":16,"y":70,"y2":80,"v":3.59},{"x":16,"x2":17,"y":70,"y2":80,"v":3.81},{"x":17,"x2":18,"y":70,"y2":80,"v":4.02},{"x":18,"x2":19,"y":70,"y2":80,"v":4.24},{"x":19,"x2":20,"y":70,"y2":80,"v":4.47},
{"x":1,"x2":2,"y":60,"y2":70,"v":0.29},{"x":2,"x2":3,"y":60,"y2":70,"v":0.47},{"x":3,"x2":4,"y":60,"y2":70,"v":0.64},{"x":4,"x2":5,"y":60,"y2":70,"v":0.82},{"x":5,"x2":6,"y":60,"y2":70,"v":1.03},{"x":6,"x2":7,"y":60,"y2":70,"v":1.30},{"x":7,"x2":8,"y":60,"y2":70,"v":1.57},{"x":8,"x2":9,"y":60,"y2":70,"v":1.83},{"x":9,"x2":10,"y":60,"y2":70,"v":2.10},{"x":10,"x2":11,"y":60,"y2":70,"v":2.37},{"x":11,"x2":12,"y":60,"y2":70,"v":2.65},{"x":12,"x2":13,"y":60,"y2":70,"v":2.92},{"x":13,"x2":14,"y":60,"y2":70,"v":3.19},{"x":14,"x2":15,"y":60,"y2":70,"v":3.46},{"x":15,"x2":16,"y":60,"y2":70,"v":3.71},{"x":16,"x2":17,"y":60,"y2":70,"v":3.95},{"x":17,"x2":18,"y":60,"y2":70,"v":4.19},{"x":18,"x2":19,"y":60,"y2":70,"v":4.47},{"x":19,"x2":20,"y":60,"y2":70,"v":4.79},
{"x":1,"x2":2,"y":50,"y2":60,"v":0.30},{"x":2,"x2":3,"y":50,"y2":60,"v":0.48},{"x":3,"x2":4,"y":50,"y2":60,"v":0.65},{"x":4,"x2":5,"y":50,"y2":60,"v":0.83},{"x":5,"x2":6,"y":50,"y2":60,"v":1.05},{"x":6,"x2":7,"y":50,"y2":60,"v":1.32},{"x":7,"x2":8,"y":50,"y2":60,"v":1.59},{"x":8,"x2":9,"y":50,"y2":60,"v":1.86},{"x":9,"x2":10,"y":50,"y2":60,"v":2.12},{"x":10,"x2":11,"y":50,"y2":60,"v":2.39},{"x":11,"x2":12,"y":50,"y2":60,"v":2.67},{"x":12,"x2":13,"y":50,"y2":60,"v":2.94},{"x":13,"x2":14,"y":50,"y2":60,"v":3.22},{"x":14,"x2":15,"y":50,"y2":60,"v":3.50},{"x":15,"x2":16,"y":50,"y2":60,"v":3.77},{"x":16,"x2":17,"y":50,"y2":60,"v":4.04},{"x":17,"x2":18,"y":50,"y2":60,"v":4.31},{"x":18,"x2":19,"y":50,"y2":60,"v":4.61},{"x":19,"x2":20,"y":50,"y2":60,"v":4.92}
],
"a1c":[
{"g":"0.26a","x":4.0,"y":100},{"g":"0.26a","x":3.3,"y":96.5},
{"g":"0.26b","x":2.6,"y":91},{"g":"0.26b","x":2.2,"y":88},{"g":"0.26b","x":1.7,"y":82},{"g":"0.26b","x":1.55,"y":75},{"g":"0.26b","x":1.7,"y":68},{"g":"0.26b","x":2.0,"y":60},{"g":"0.26b","x":2.4,"y":50},
{"g":"0.97a","x":12.9,"y":100},{"g":"0.97a","x":12.3,"y":95},{"g":"0.97a","x":11.4,"y":85},{"g":"0.97a","x":10.5,"y":80.5},{"g":"0.97a","x":9.8,"y":77.5},
{"g":"0.97b","x":9.4,"y":72.5},{"g":"0.97b","x":9.4,"y":70},{"g":"0.97b","x":9.4,"y":60},{"g":"0.97b","x":9.5,"y":50},
{"g":"1.68a","x":20.0,"y":100},{"g":"1.68a","x":19.5,"y":95},{"g":"1.68a","x":18.7,"y":85},{"g":"1.68a","x":18.2,"y":82.5},
{"g":"1.68b","x":17.6,"y":77.5},{"g":"1.68b","x":17.3,"y":75},{"g":"1.68b","x":16.4,"y":68},{"g":"1.68b","x":15.5,"y":62},{"g":"1.68b","x":15.5,"y":50},
{"g":"2.38a","x":24.9,"y":100},{"g":"2.38a","x":24.6,"y":97.8},
{"g":"2.38b","x":23.9,"y":92.6},{"g":"2.38b","x":23.7,"y":85},{"g":"2.38b","x":22.8,"y":75.3},{"g":"2.38b","x":23.4,"y":70.5},{"g":"2.38b","x":22.5,"y":60},{"g":"2.38b","x":21.5,"y":50},
{"g":"3.09a","x":29.6,"y":100},{"g":"3.09a","x":29.0,"y":95},{"g":"3.09a","x":28.4,"y":85},{"g":"3.09a","x":27.0,"y":75.3},{"g":"3.09a","x":27.4,"y":70.5},{"g":"3.09a","x":27.6,"y":67.8},
{"g":"3.09b","x":27.9,"y":63},{"g":"3.09b","x":27.7,"y":55},{"g":"3.09b","x":27.5,"y":50},
{"g":"3.80a","x":34.4,"y":100},{"g":"3.80a","x":33.8,"y":95},{"g":"3.80a","x":33.2,"y":85},{"g":"3.80a","x":32.9,"y":82.6},
{"g":"3.80b","x":31.6,"y":78},{"g":"3.80b","x":31.2,"y":75.3},{"g":"3.80b","x":32.2,"y":70.5},{"g":"3.80b","x":32.9,"y":61.5},{"g":"3.80b","x":33.9,"y":50},
{"g":"4.51a","x":39.5,"y":100},{"g":"4.51a","x":38.6,"y":95},{"g":"4.51a","x":37.6,"y":85},{"g":"4.51a","x":35.3,"y":75.3},{"g":"4.51a","x":35.8,"y":71},{"g":"4.51a","x":36.2,"y":66.5},
{"g":"4.51b","x":38.0,"y":61.5},{"g":"4.51b","x":38.7,"y":55},{"g":"4.51b","x":39.3,"y":50}
],
"a2c":[
{"g":"0.26a","x":4.2,"y":100},{"g":"0.26a","x":3.4,"y":95},{"g":"0.26a","x":2.6,"y":88},{"g":"0.26a","x":2.3,"y":85.5},
{"g":"0.26b","x":2.1,"y":78.5},{"g":"0.26b","x":2.3,"y":68},{"g":"0.26b","x":2.6,"y":58},{"g":"0.26b","x":2.7,"y":50},
{"g":"0.97a","x":13.8,"y":100},{"g":"0.97a","x":12.9,"y":93.5},
{"g":"0.97b","x":11.9,"y":88.2},{"g":"0.97b","x":11.0,"y":83},{"g":"0.97b","x":10.6,"y":78},{"g":"0.97b","x":10.4,"y":65},{"g":"0.97b","x":10.4,"y":50},
{"g":"1.68a","x":20.6,"y":100},{"g":"1.68a","x":19.8,"y":95},{"g":"1.68a","x":18.5,"y":88},{"g":"1.68a","x":17.6,"y":84},
{"g":"1.68b","x":17.2,"y":78.4},{"g":"1.68b","x":16.5,"y":74},{"g":"1.68b","x":15.9,"y":68},{"g":"1.68b","x":15.7,"y":50},
{"g":"2.38a","x":25.3,"y":100},{"g":"2.38a","x":24.9,"y":95},{"g":"2.38a","x":24.4,"y":90.7},{"g":"2.38a","x":23.8,"y":82},{"g":"2.38a","x":23.4,"y":74.4},
{"g":"2.38b","x":22.1,"y":69},{"g":"2.38b","x":21.6,"y":60},{"g":"2.38b","x":21.2,"y":50},
{"g":"3.09a","x":30.0,"y":100},{"g":"3.09a","x":29.3,"y":93},{"g":"3.09a","x":28.5,"y":85},{"g":"3.09a","x":28.1,"y":76},{"g":"3.09a","x":27.8,"y":63.8},
{"g":"3.09b","x":27.1,"y":58.5},{"g":"3.09b","x":26.8,"y":50},
{"g":"3.80a","x":34.7,"y":100},{"g":"3.80a","x":34.9,"y":90},{"g":"3.80a","x":34.9,"y":84},
{"g":"3.80b","x":34.5,"y":78.3},{"g":"3.80b","x":33.2,"y":68},{"g":"3.80b","x":32.8,"y":60},{"g":"3.80b","x":32.5,"y":50},
{"g":"4.51a","x":39.4,"y":100},{"g":"4.51a","x":39.0,"y":88},{"g":"4.51a","x":38.7,"y":79},{"g":"4.51a","x":38.3,"y":58.5},
{"g":"4.51b","x":38.15,"y":53.5},{"g":"4.51b","x":38.1,"y":50}
],
"a3c":[
{"g":"0.26a","x":3.6,"y":100},{"g":"0.26a","x":2.9,"y":93},{"g":"0.26a","x":2.35,"y":85},{"g":"0.26a","x":2.0,"y":76},{"g":"0.26a","x":1.9,"y":68},{"g":"0.26a","x":2.3,"y":60},{"g":"0.26a","x":2.8,"y":50},
{"g":"0.97a","x":12.7,"y":100},{"g":"0.97a","x":12.3,"y":97.8},
{"g":"0.97b","x":10.9,"y":92.8},{"g":"0.97b","x":10.3,"y":88},{"g":"0.97b","x":9.9,"y":80},{"g":"0.97b","x":9.7,"y":70},{"g":"0.97b","x":9.6,"y":60},{"g":"0.97b","x":9.55,"y":50},
{"g":"1.68a","x":20.6,"y":100},{"g":"1.68a","x":19.8,"y":94},{"g":"1.68a","x":18.9,"y":88},{"g":"1.68a","x":17.9,"y":82},{"g":"1.68a","x":17.4,"y":78},
{"g":"1.68b","x":16.3,"y":71.7},{"g":"1.68b","x":15.6,"y":63},{"g":"1.68b","x":15.3,"y":50},
{"g":"2.38a","x":25.7,"y":100},{"g":"2.38a","x":25.3,"y":97},
{"g":"2.38b","x":24.4,"y":91},{"g":"2.38b","x":23.9,"y":85},{"g":"2.38b","x":23.3,"y":77.5},{"g":"2.38b","x":22.5,"y":72},{"g":"2.38b","x":22.9,"y":69},{"g":"2.38b","x":21.9,"y":60},{"g":"2.38b","x":21.0,"y":50},
{"g":"3.09a","x":30.7,"y":100},{"g":"3.09a","x":29.9,"y":94},{"g":"3.09a","x":28.7,"y":87},{"g":"3.09a","x":27.9,"y":81},{"g":"3.09a","x":27.1,"y":75.3},{"g":"3.09a","x":27.6,"y":71.5},{"g":"3.09a","x":27.7,"y":70.3},
{"g":"3.09b","x":28.1,"y":65.3},{"g":"3.09b","x":27.6,"y":57},{"g":"3.09b","x":26.9,"y":50},
{"g":"3.80a","x":35.6,"y":100},{"g":"3.80a","x":34.5,"y":93},{"g":"3.80a","x":33.3,"y":85},{"g":"3.80a","x":32.9,"y":80.3},
{"g":"3.80b","x":31.8,"y":74.8},{"g":"3.80b","x":32.3,"y":68},{"g":"3.80b","x":32.9,"y":62},{"g":"3.80b","x":32.9,"y":50},
{"g":"4.51a","x":40.0,"y":96.9},{"g":"4.51a","x":38.7,"y":88},{"g":"4.51a","x":37.4,"y":80},{"g":"4.51a","x":36.3,"y":74},{"g":"4.51a","x":36.7,"y":68},{"g":"4.51a","x":37.6,"y":60.5},
{"g":"4.51b","x":38.6,"y":53.5},{"g":"4.51b","x":38.8,"y":50}
],
"b1c":[
{"g":"0.25a","x":1.65,"y":100},{"g":"0.25a","x":1.5,"y":93},
{"g":"0.25b","x":1.2,"y":88},{"g":"0.25b","x":1.1,"y":80},{"g":"0.25b","x":1.05,"y":65},{"g":"0.25b","x":1.0,"y":50},
{"g":"0.92a","x":5.9,"y":100},{"g":"0.92a","x":5.7,"y":95},{"g":"0.92a","x":5.5,"y":85},{"g":"0.92a","x":5.4,"y":83.3},
{"g":"0.92b","x":5.3,"y":79.5},{"g":"0.92b","x":5.1,"y":65},{"g":"0.92b","x":4.95,"y":55},{"g":"0.92b","x":4.85,"y":50},
{"g":"1.60a","x":8.9,"y":100},{"g":"1.60a","x":8.5,"y":95},{"g":"1.60a","x":7.8,"y":85},{"g":"1.60a","x":7.55,"y":75},{"g":"1.60a","x":7.5,"y":72},
{"g":"1.60b","x":7.3,"y":68.3},{"g":"1.60b","x":7.2,"y":65},{"g":"1.60b","x":7.15,"y":55},{"g":"1.60b","x":7.1,"y":50},
{"g":"2.28a","x":13.9,"y":100},{"g":"2.28a","x":13.0,"y":98.3},
{"g":"2.28b","x":11.3,"y":92.9},{"g":"2.28b","x":10.8,"y":87},{"g":"2.28b","x":10.3,"y":81},{"g":"2.28b","x":10.0,"y":76.5},{"g":"2.28b","x":9.7,"y":65},{"g":"2.28b","x":9.5,"y":55},{"g":"2.28b","x":9.4,"y":50},
{"g":"2.95a","x":19.6,"y":100},{"g":"2.95a","x":16.85,"y":95},{"g":"2.95a","x":14.2,"y":90},{"g":"2.95a","x":13.8,"y":83},{"g":"2.95a","x":13.4,"y":75.5},{"g":"2.95a","x":13.0,"y":71},
{"g":"2.95b","x":12.3,"y":66.5},{"g":"2.95b","x":12.2,"y":60},{"g":"2.95b","x":12.15,"y":50},
{"g":"3.63a","x":20.0,"y":89.4},{"g":"3.63a","x":18.5,"y":86.5},{"g":"3.63a","x":17.1,"y":83.7},{"g":"3.63a","x":16.6,"y":77.5},
{"g":"3.63b","x":15.8,"y":72.5},{"g":"3.63b","x":14.8,"y":63.2},{"g":"3.63b","x":14.6,"y":50},
{"g":"4.31a","x":20.0,"y":77.4},{"g":"4.31a","x":19.7,"y":75},{"g":"4.31a","x":18.9,"y":70},{"g":"4.31a","x":18.3,"y":65},{"g":"4.31a","x":18.1,"y":63},
{"g":"4.31b","x":17.35,"y":58.2},{"g":"4.31b","x":17.1,"y":50},
{"g":"4.98a","x":20.0,"y":62},{"g":"4.98a","x":19.75,"y":56}
],
"b2c":[
{"g":"0.25a","x":1.6,"y":100},{"g":"0.25a","x":1.4,"y":92},{"g":"0.25a","x":1.3,"y":86.5},
{"g":"0.25b","x":1.1,"y":81.5},{"g":"0.25b","x":1.1,"y":65},{"g":"0.25b","x":1.1,"y":50},
{"g":"0.92a","x":6.4,"y":100},{"g":"0.92a","x":6.25,"y":94},
{"g":"0.92b","x":5.75,"y":89.2},{"g":"0.92b","x":5.5,"y":82},{"g":"0.92b","x":5.3,"y":74},{"g":"0.92b","x":5.15,"y":60},{"g":"0.92b","x":5.1,"y":50},
{"g":"1.60a","x":9.45,"y":100},{"g":"1.60a","x":9.0,"y":95},{"g":"1.60a","x":8.5,"y":90},{"g":"1.60a","x":8.1,"y":85},{"g":"1.60a","x":7.85,"y":77.3},
{"g":"1.60b","x":7.6,"y":72.7},{"g":"1.60b","x":7.45,"y":65},{"g":"1.60b","x":7.4,"y":50},
{"g":"2.28a","x":13.6,"y":100},{"g":"2.28a","x":13.0,"y":97.8},
{"g":"2.28b","x":11.6,"y":92.8},{"g":"2.28b","x":11.0,"y":87},{"g":"2.28b","x":10.4,"y":77},{"g":"2.28b","x":10.1,"y":70},{"g":"2.28b","x":9.9,"y":60},{"g":"2.28b","x":9.8,"y":50},
{"g":"2.95a","x":17.8,"y":100},{"g":"2.95a","x":16.0,"y":95},{"g":"2.95a","x":14.2,"y":89.7},{"g":"2.95a","x":13.8,"y":84},{"g":"2.95a","x":13.4,"y":79.4},{"g":"2.95a","x":13.0,"y":71},
{"g":"2.95b","x":12.4,"y":66},{"g":"2.95b","x":12.35,"y":60},{"g":"2.95b","x":12.3,"y":50},
{"g":"3.63a","x":20.0,"y":94.6},{"g":"3.63a","x":18.2,"y":90},{"g":"3.63a","x":16.3,"y":85.2},{"g":"3.63a","x":16.0,"y":77.6},
{"g":"3.63b","x":15.4,"y":72.5},{"g":"3.63b","x":14.9,"y":63},{"g":"3.63b","x":14.8,"y":50},
{"g":"4.31a","x":20.0,"y":80.6},{"g":"4.31a","x":18.7,"y":77.5},{"g":"4.31a","x":18.35,"y":73},{"g":"4.31a","x":18.2,"y":68},{"g":"4.31a","x":18.0,"y":66},
{"g":"4.31b","x":17.8,"y":62.3},{"g":"4.31b","x":17.7,"y":60.5},{"g":"4.31b","x":17.3,"y":50},
{"g":"4.98a","x":20.0,"y":61},{"g":"4.98a","x":19.8,"y":56.5}
],
"b3c":[
{"g":"0.25a","x":1.93,"y":100},{"g":"0.25a","x":1.8,"y":92.5},
{"g":"0.25b","x":1.5,"y":86},{"g":"0.25b","x":1.35,"y":78},{"g":"0.25b","x":1.25,"y":65},{"g":"0.25b","x":1.2,"y":50},
{"g":"0.92a","x":6.36,"y":100},{"g":"0.92a","x":6.3,"y":97},
{"g":"0.92b","x":5.9,"y":91.8},{"g":"0.92b","x":5.6,"y":86},{"g":"0.92b","x":5.3,"y":79.4},{"g":"0.92b","x":5.1,"y":68},{"g":"0.92b","x":5.0,"y":50},
{"g":"1.60a","x":9.4,"y":100},{"g":"1.60a","x":9.0,"y":92},{"g":"1.60a","x":8.6,"y":85.2},{"g":"1.60a","x":8.3,"y":78.5},{"g":"1.60a","x":8.1,"y":77},
{"g":"1.60b","x":7.7,"y":72.5},{"g":"1.60b","x":7.55,"y":60},{"g":"1.60b","x":7.5,"y":50},
{"g":"2.28a","x":12.6,"y":100},{"g":"2.28a","x":12.1,"y":93},
{"g":"2.28b","x":11.4,"y":86.5},{"g":"2.28b","x":10.9,"y":81},{"g":"2.28b","x":10.5,"y":75.4},{"g":"2.28b","x":10.2,"y":68},{"g":"2.28b","x":10.1,"y":50},
{"g":"2.95a","x":16.0,"y":100},{"g":"2.95a","x":14.7,"y":91},{"g":"2.95a","x":13.4,"y":82.3},{"g":"2.95a","x":12.9,"y":75.4},{"g":"2.95a","x":12.75,"y":71},
{"g":"2.95b","x":12.6,"y":65.3},{"g":"2.95b","x":12.5,"y":50},
{"g":"3.63a","x":19.2,"y":100},{"g":"3.63a","x":18.1,"y":92},{"g":"3.63a","x":17.2,"y":87},
{"g":"3.63b","x":16.0,"y":79.4},{"g":"3.63b","x":15.3,"y":71},{"g":"3.63b","x":15.0,"y":60},{"g":"3.63b","x":14.95,"y":50},
{"g":"4.31a","x":20.0,"y":84},{"g":"4.31a","x":19.0,"y":77},{"g":"4.31a","x":18.5,"y":70.8},{"g":"4.31a","x":17.9,"y":65.2},
{"g":"4.31b","x":17.55,"y":59},{"g":"4.31b","x":17.4,"y":50},
{"g":"4.98a","x":20.0,"y":64},{"g":"4.98a","x":19.8,"y":58}
],
"a1t":[{"t":"0.26","x":5.25,"y":93.5},{"t":"0.97","x":9.1,"y":75.1},{"t":"1.68","x":18.1,"y":79.9},{"t":"2.38","x":23.9,"y":95.2},{"t":"3.09","x":28.0,"y":65.4},{"t":"3.80","x":32.2,"y":80.4},{"t":"4.51","x":37.1,"y":64.0}],
"a2t":[{"t":"0.97","x":12.7,"y":90.7},{"t":"0.26","x":4.0,"y":82.0},{"t":"1.68","x":16.6,"y":81.1},{"t":"3.80","x":34.9,"y":81.1},{"t":"2.38","x":22.3,"y":71.8},{"t":"3.09","x":27.6,"y":61.1},{"t":"4.51","x":36.2,"y":56.1}],
"a3t":[{"t":"0.97","x":11.7,"y":95.5},{"t":"2.38","x":24.6,"y":94.1},{"t":"1.68","x":16.8,"y":75.0},{"t":"3.80","x":31.8,"y":77.6},{"t":"3.09","x":28.2,"y":68.0},{"t":"4.51","x":37.3,"y":56.8}],
"b1t":[{"t":"2.28","x":11.5,"y":95.7},{"t":"0.25","x":2.4,"y":90.6},{"t":"0.92","x":5.4,"y":81.5},{"t":"3.63","x":16.1,"y":75.3},{"t":"1.60","x":7.5,"y":70.3},{"t":"2.95","x":12.2,"y":69.2},{"t":"4.31","x":17.8,"y":60.6},{"t":"4.98","x":18.4,"y":52.9}],
"b2t":[{"t":"0.92","x":6.1,"y":92.0},{"t":"0.25","x":2.5,"y":84.0},{"t":"2.28","x":11.8,"y":95.5},{"t":"1.60","x":7.75,"y":75.0},{"t":"3.63","x":15.2,"y":75.0},{"t":"2.95","x":12.5,"y":68.6},{"t":"4.31","x":17.7,"y":64.3},{"t":"4.98","x":18.6,"y":53.1}],
"b3t":[{"t":"0.92","x":6.05,"y":94.6},{"t":"0.25","x":3.0,"y":88.9},{"t":"2.28","x":11.6,"y":90.0},{"t":"3.63","x":16.4,"y":83.5},{"t":"1.60","x":7.84,"y":75.0},{"t":"2.95","x":12.6,"y":68.3},{"t":"4.31","x":17.3,"y":62.3},{"t":"4.98","x":18.5,"y":54.0}]
},
"vconcat":[
{
"title":{"text":"A","anchor":"start","fontSize":26,"fontWeight":"bold","offset":-26,"dx":-12,"frame":"bounds"},
"spacing":14,
"bounds":"flush",
"resolve":{"scale":{"color":"independent"},"legend":{"color":"independent"}},
"hconcat":[
{"width":304,"height":294,"title":{"text":"Starting Volume (10mL)","offset":-9},
"encoding":{"x":{"field":"x","type":"quantitative","scale":{"domain":[1,40],"nice":false,"zero":false},"axis":{"title":"Starting Composition (% v/v)","values":[2.5,5,7.5,10,12.5,15,17.5,20,22.5,25,27.5,30,32.5,35,37.5,40],"labelExpr":"datum.value % 5 === 0 ? datum.label : ''","tickSize":6,"labelPadding":2,"titlePadding":10}},
"y":{"field":"y","type":"quantitative","scale":{"domain":[50,100],"nice":false,"zero":false},"axis":{"title":["MeCN Containing Solvent","Concentration Temperature (°C)"],"values":[50,55,60,65,70,75,80,85,90,95,100],"labelExpr":"datum.value % 10 === 0 ? datum.label : ''","tickSize":6,"labelPadding":2,"titlePadding":1,"titleLineHeight":35}}},
"layer":[
{"data":{"name":"a1"},"mark":{"type":"rect","clip":true},"encoding":{"x2":{"field":"x2"},"y2":{"field":"y2"},
"color":{"field":"v","type":"quantitative","scale":{"domain":[0.04,0.26,0.97,1.68,2.38,2.74,3.09,3.80,4.51,5.22,5.64],"range":["#0a740a","#0b7f0b","#3ec23e","#72f872","#d9f8b3","#fcf9c8","#fbe2b8","#f6b08e","#f26a55","#fd1a12","#ff0000"]},"legend":null}}},
{"data":{"name":"a1c"},"mark":{"type":"line","color":"#3a3a3a","strokeWidth":0.9,"clip":true},"encoding":{"detail":{"field":"g"},"order":{"field":"y"}}},
{"data":{"name":"a1t"},"mark":{"type":"text","fontSize":22,"color":"#1a1a1a"},"encoding":{"text":{"field":"t"}}}
]},
{"width":304,"height":294,"title":"Starting Volume (25mL)",
"encoding":{"x":{"field":"x","type":"quantitative","scale":{"domain":[1,40],"nice":false,"zero":false},"axis":{"title":"Starting Composition (% v/v)","values":[2.5,5,7.5,10,12.5,15,17.5,20,22.5,25,27.5,30,32.5,35,37.5,40],"labelExpr":"datum.value % 5 === 0 ? datum.label : ''","tickSize":6,"labelPadding":2,"titlePadding":10}},
"y":{"field":"y","type":"quantitative","scale":{"domain":[50,100],"nice":false,"zero":false},"axis":null}},
"layer":[
{"data":{"name":"a2"},"mark":{"type":"rect","clip":true},"encoding":{"x2":{"field":"x2"},"y2":{"field":"y2"},
"color":{"field":"v","type":"quantitative","scale":{"domain":[0.04,0.26,0.97,1.68,2.38,2.74,3.09,3.80,4.51,5.22,5.64],"range":["#0a740a","#0b7f0b","#3ec23e","#72f872","#d9f8b3","#fcf9c8","#fbe2b8","#f6b08e","#f26a55","#fd1a12","#ff0000"]},"legend":null}}},
{"data":{"name":"a2c"},"mark":{"type":"line","color":"#3a3a3a","strokeWidth":0.9,"clip":true},"encoding":{"detail":{"field":"g"},"order":{"field":"y"}}},
{"data":{"name":"a2t"},"mark":{"type":"text","fontSize":22,"color":"#1a1a1a"},"encoding":{"text":{"field":"t"}}}
]},
{"width":304,"height":294,"title":"Starting Volume (50mL)",
"encoding":{"x":{"field":"x","type":"quantitative","scale":{"domain":[1,40],"nice":false,"zero":false},"axis":{"title":"Starting Composition (% v/v)","values":[2.5,5,7.5,10,12.5,15,17.5,20,22.5,25,27.5,30,32.5,35,37.5,40],"labelExpr":"datum.value % 5 === 0 ? datum.label : ''","tickSize":6,"labelPadding":2,"titlePadding":10}},
"y":{"field":"y","type":"quantitative","scale":{"domain":[50,100],"nice":false,"zero":false},"axis":null}},
"layer":[
{"data":{"name":"a3"},"mark":{"type":"rect","clip":true},"encoding":{"x2":{"field":"x2"},"y2":{"field":"y2"},
"color":{"field":"v","type":"quantitative","scale":{"domain":[0.04,0.26,0.97,1.68,2.38,2.74,3.09,3.80,4.51,5.22,5.64],"range":["#0a740a","#0b7f0b","#3ec23e","#72f872","#d9f8b3","#fcf9c8","#fbe2b8","#f6b08e","#f26a55","#fd1a12","#ff0000"]},"legend":{"type":"gradient","format":".2f","title":["Remaining","Solvent (% v/v)"],"values":[0.26,0.97,1.68,2.38,3.09,3.80,4.51,5.22],"gradientLength":167,"offset":15}}}},
{"data":{"name":"a3c"},"mark":{"type":"line","color":"#3a3a3a","strokeWidth":0.9,"clip":true},"encoding":{"detail":{"field":"g"},"order":{"field":"y"}}},
{"data":{"name":"a3t"},"mark":{"type":"text","fontSize":22,"color":"#1a1a1a"},"encoding":{"text":{"field":"t"}}}
]}
]},
{
"title":{"text":"B","anchor":"start","fontSize":26,"fontWeight":"bold","offset":-26,"dx":-12,"frame":"bounds"},
"spacing":16,
"bounds":"flush",
"resolve":{"scale":{"color":"independent"},"legend":{"color":"independent"}},
"hconcat":[
{"width":302,"height":292,"title":{"text":"Starting Volume (10mL)","offset":-9},
"encoding":{"x":{"field":"x","type":"quantitative","scale":{"domain":[1,20],"nice":false,"zero":false},"axis":{"title":"Starting Composition (% v/v)","values":[2,4,6,8,10,12,14,16,18,20],"labelExpr":"datum.value % 4 === 0 ? datum.label : ''","tickSize":6,"labelPadding":2,"titlePadding":10}},
"y":{"field":"y","type":"quantitative","scale":{"domain":[50,100],"nice":false,"zero":false},"axis":{"title":["EtOH Containing Sample","Concentration Temperature (°C)"],"values":[50,55,60,65,70,75,80,85,90,95,100],"labelExpr":"datum.value % 10 === 0 ? datum.label : ''","tickSize":6,"labelPadding":2,"titlePadding":1,"titleLineHeight":35}}},
"layer":[
{"data":{"name":"b1"},"mark":{"type":"rect","clip":true},"encoding":{"x2":{"field":"x2"},"y2":{"field":"y2"},
"color":{"field":"v","type":"quantitative","scale":{"domain":[-0.01,0.25,0.92,1.60,2.28,2.61,2.95,3.63,4.31,4.98,5.34],"range":["#0a740a","#0b7f0b","#3ec23e","#72f872","#d9f8b3","#fcf9c8","#fbe2b8","#f6b08e","#f26a55","#fd1a12","#ff0000"]},"legend":null}}},
{"data":{"name":"b1c"},"mark":{"type":"line","color":"#3a3a3a","strokeWidth":0.9,"clip":true},"encoding":{"detail":{"field":"g"},"order":{"field":"y"}}},
{"data":{"name":"b1t"},"mark":{"type":"text","fontSize":22,"color":"#1a1a1a"},"encoding":{"text":{"field":"t"}}}
]},
{"width":302,"height":292,"title":"Starting Volume (25mL)",
"encoding":{"x":{"field":"x","type":"quantitative","scale":{"domain":[1,20],"nice":false,"zero":false},"axis":{"title":"Starting Composition (% v/v)","values":[2,4,6,8,10,12,14,16,18,20],"labelExpr":"datum.value % 4 === 0 ? datum.label : ''","tickSize":6,"labelPadding":2,"titlePadding":10}},
"y":{"field":"y","type":"quantitative","scale":{"domain":[50,100],"nice":false,"zero":false},"axis":null}},
"layer":[
{"data":{"name":"b2"},"mark":{"type":"rect","clip":true},"encoding":{"x2":{"field":"x2"},"y2":{"field":"y2"},
"color":{"field":"v","type":"quantitative","scale":{"domain":[-0.01,0.25,0.92,1.60,2.28,2.61,2.95,3.63,4.31,4.98,5.34],"range":["#0a740a","#0b7f0b","#3ec23e","#72f872","#d9f8b3","#fcf9c8","#fbe2b8","#f6b08e","#f26a55","#fd1a12","#ff0000"]},"legend":null}}},
{"data":{"name":"b2c"},"mark":{"type":"line","color":"#3a3a3a","strokeWidth":0.9,"clip":true},"encoding":{"detail":{"field":"g"},"order":{"field":"y"}}},
{"data":{"name":"b2t"},"mark":{"type":"text","fontSize":22,"color":"#1a1a1a"},"encoding":{"text":{"field":"t"}}}
]},
{"width":302,"height":292,"title":"Starting Volume (50mL)",
"encoding":{"x":{"field":"x","type":"quantitative","scale":{"domain":[1,20],"nice":false,"zero":false},"axis":{"title":"Starting Composition (% v/v)","values":[2,4,6,8,10,12,14,16,18,20],"labelExpr":"datum.value % 4 === 0 ? datum.label : ''","tickSize":6,"labelPadding":2,"titlePadding":10}},
"y":{"field":"y","type":"quantitative","scale":{"domain":[50,100],"nice":false,"zero":false},"axis":null}},
"layer":[
{"data":{"name":"b3"},"mark":{"type":"rect","clip":true},"encoding":{"x2":{"field":"x2"},"y2":{"field":"y2"},
"color":{"field":"v","type":"quantitative","scale":{"domain":[-0.01,0.25,0.92,1.60,2.28,2.61,2.95,3.63,4.31,4.98,5.34],"range":["#0a740a","#0b7f0b","#3ec23e","#72f872","#d9f8b3","#fcf9c8","#fbe2b8","#f6b08e","#f26a55","#fd1a12","#ff0000"]},"legend":{"type":"gradient","format":".2f","title":["Remaining","Solvent (% v/v)"],"values":[0.25,0.92,1.60,2.28,2.95,3.63,4.31,4.98],"gradientLength":164,"offset":15}}}},
{"data":{"name":"b3c"},"mark":{"type":"line","color":"#3a3a3a","strokeWidth":0.9,"clip":true},"encoding":{"detail":{"field":"g"},"order":{"field":"y"}}},
{"data":{"name":"b3t"},"mark":{"type":"text","fontSize":22,"color":"#1a1a1a"},"encoding":{"text":{"field":"t"}}}
]}
]}
]
}
